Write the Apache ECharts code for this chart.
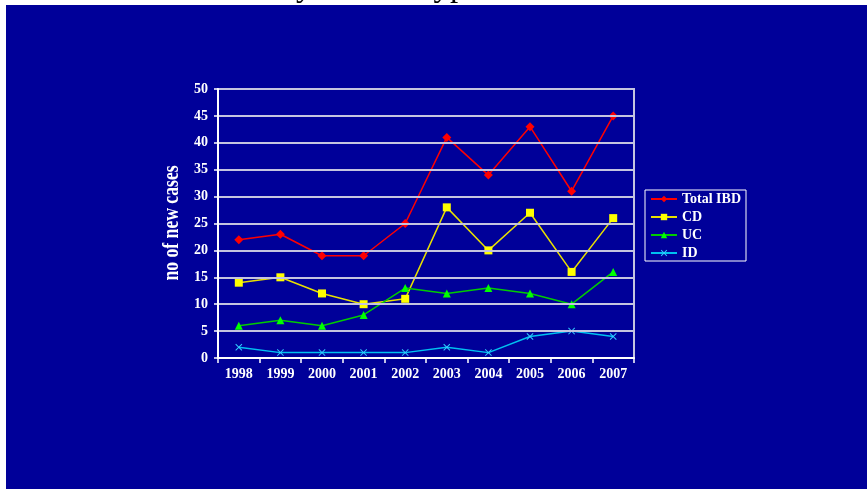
<!DOCTYPE html>
<html>
<head>
<meta charset="utf-8">
<script src="https://cdn.jsdelivr.net/npm/echarts@6/dist/echarts.min.js"></script>
<style>
  html, body { margin: 0; padding: 0; background: #ffffff; }
  #chart { width: 867px; height: 489px; }
</style>
</head>
<body>
<div id="chart"></div>
<script>
// Yearly counts of new inflammatory bowel disease cases by type
const years = ['1998', '1999', '2000', '2001', '2002', '2003', '2004', '2005', '2006', '2007'];
const totalIBD = [22, 23, 19, 19, 25, 41, 34, 43, 31, 45];
const cd = [14, 15, 12, 10, 11, 28, 20, 27, 16, 26];
const uc = [6, 7, 6, 8, 13, 12, 13, 12, 10, 16];
const id = [2, 1, 1, 1, 1, 2, 1, 4, 5, 4];
const yTicks = { min: 0, max: 50, interval: 5 };
const yTitle = 'no of new cases';

const serif = "'Liberation Serif', 'Times New Roman', serif";
const crossPath = 'path://M0,1 L1,0 L5,4 L9,0 L10,1 L6,5 L10,9 L9,10 L5,6 L1,10 L0,9 L4,5 Z';

function lineSeries(name, data, lineColor, markColor, symbol, size) {
  return {
    name: name,
    type: 'line',
    data: data,
    symbol: symbol,
    symbolSize: size,
    showAllSymbol: true,
    animation: false,
    lineStyle: { color: lineColor, width: 1.5 },
    itemStyle: { color: markColor },
    emphasis: { disabled: true }
  };
}

const chart = echarts.init(document.getElementById('chart'), null, { renderer: 'canvas' });
chart.setOption({
  backgroundColor: '#ffffff',
  animation: false,
  graphic: [
    {
      // slide heading sitting above the blue panel
      type: 'text',
      z: 0,
      x: 143,
      y: -29,
      style: {
        text: 'Incidence by disease type',
        font: '33px ' + serif,
        fill: '#000000'
      }
    },
    {
      type: 'rect',
      z: 1,
      shape: { x: 6, y: 5, width: 861, height: 484 },
      style: { fill: '#000099' },
      silent: true
    },
    {
      // vertical axis title, drawn tall and narrow
      type: 'text',
      z: 5,
      x: 172,
      y: 223,
      rotation: Math.PI / 2,
      scaleX: 0.84,
      scaleY: 1.1,
      style: {
        text: yTitle,
        font: 'bold 21px ' + serif,
        fill: '#ffffff',
        align: 'center',
        verticalAlign: 'middle'
      }
    }
  ],
  grid: {
    left: 218, right: 233, top: 89, bottom: 131,
    show: true,
    borderColor: '#C4C4E0',
    borderWidth: 2,
    z: 3
  },
  legend: {
    orient: 'vertical',
    left: 645,
    top: 190,
    padding: [2, 5, 1, 5],
    itemGap: 4,
    itemWidth: 26,
    itemHeight: 8,
    borderColor: '#ffffff',
    borderWidth: 1,
    z: 5,
    textStyle: { color: '#ffffff', fontFamily: serif, fontWeight: 'bold', fontSize: 14, lineHeight: 13 },
    data: ['Total IBD', 'CD', 'UC', 'ID']
  },
  xAxis: {
    type: 'category',
    data: years,
    boundaryGap: true,
    z: 4,
    axisLine: { lineStyle: { color: '#ffffff', width: 2 } },
    axisTick: { show: true, alignWithLabel: false, length: 5, lineStyle: { color: '#ffffff', width: 1.5 } },
    axisLabel: { color: '#ffffff', fontFamily: serif, fontWeight: 'bold', fontSize: 14, margin: 9 },
    splitLine: { show: false }
  },
  yAxis: {
    type: 'value',
    min: yTicks.min,
    max: yTicks.max,
    interval: yTicks.interval,
    z: 4,
    axisLine: { show: true, lineStyle: { color: '#ffffff', width: 2 } },
    axisTick: { show: true, length: 4, lineStyle: { color: '#ffffff', width: 1.5 } },
    axisLabel: { color: '#ffffff', fontFamily: serif, fontWeight: 'bold', fontSize: 14, margin: 10 },
    splitLine: { show: true, lineStyle: { color: '#C4C4E0', width: 2 } }
  },
  series: [
    lineSeries('Total IBD', totalIBD, '#FF0000', '#FF0000', 'diamond', 9),
    lineSeries('CD', cd, '#E8E000', '#FFFF00', 'rect', 8),
    lineSeries('UC', uc, '#00CC00', '#00FF00', 'triangle', 8),
    lineSeries('ID', id, '#00C0F0', '#33CCFF', crossPath, 7)
  ]
});
</script>
</body>
</html>
